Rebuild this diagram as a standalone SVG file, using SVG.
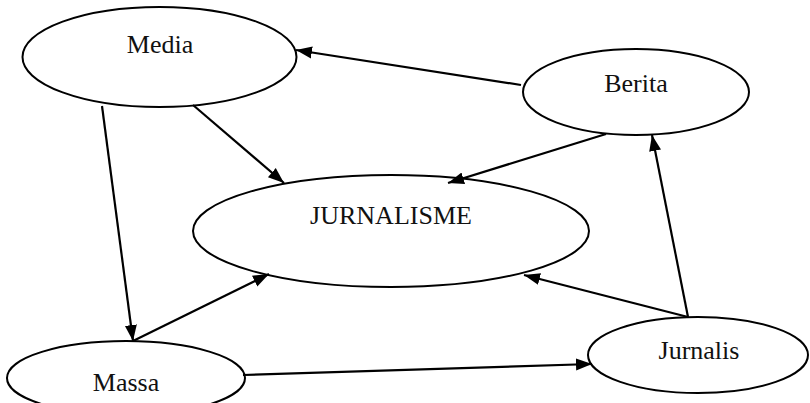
<svg xmlns="http://www.w3.org/2000/svg" width="810" height="403" viewBox="0 0 810 403">
<style>
.node ellipse{fill:#fff;stroke:#000;stroke-width:2}
.node text{font-family:"Liberation Serif","Times New Roman",serif;font-size:26px;fill:#111;text-anchor:middle}
.edges line{stroke:#000;stroke-width:2.2;marker-end:url(#arr)}
</style>
<defs>
<marker id="arr" markerUnits="userSpaceOnUse" markerWidth="18" markerHeight="14" refX="16" refY="6.5" orient="auto">
<path d="M0,0.5 L16,6.5 L0,12.5 z" fill="#000"/>
</marker>
</defs>
<rect width="810" height="403" fill="#fff"/>
<g id="media" class="node"><ellipse cx="159.5" cy="57" rx="137" ry="50"/><text x="160" y="53">Media</text></g>
<g id="berita" class="node"><ellipse cx="636" cy="92" rx="113" ry="43"/><text x="636" y="92">Berita</text></g>
<g id="jurnalisme" class="node"><ellipse cx="391" cy="231" rx="198" ry="56"/><text x="391" y="224">JURNALISME</text></g>
<g id="massa" class="node"><ellipse cx="126" cy="378" rx="119" ry="37"/><text x="126" y="391">Massa</text></g>
<g id="jurnalis" class="node"><ellipse cx="698" cy="355" rx="110" ry="38"/><text x="699" y="359">Jurnalis</text></g>
<g id="connectors" class="edges">
<line x1="521" y1="85" x2="296" y2="50"/>
<line x1="193" y1="105" x2="284" y2="183"/>
<line x1="606" y1="134" x2="448" y2="183"/>
<line x1="102" y1="106" x2="133" y2="341"/>
<line x1="133" y1="341" x2="269" y2="274"/>
<line x1="243" y1="375" x2="592" y2="364"/>
<line x1="688" y1="317" x2="524" y2="275"/>
<line x1="688" y1="317" x2="652" y2="135"/>
</g>
</svg>
